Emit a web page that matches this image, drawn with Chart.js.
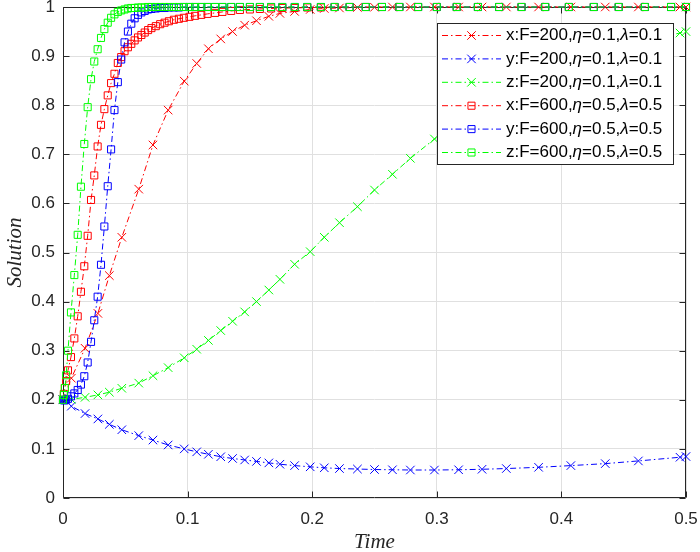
<!DOCTYPE html>
<html>
<head>
<meta charset="utf-8">
<title>Solution vs Time</title>
<script src="https://cdn.jsdelivr.net/npm/chart.js@4.4.0/dist/chart.umd.min.js"></script>
<style>
    html, body { margin: 0; padding: 0; background: #ffffff; }
    #wrap { width: 700px; height: 552px; position: relative; }
</style>
</head>
<body>
<div id="wrap"><canvas id="myChart"></canvas></div>
<script>
// time steps of the F=200 run (x, y, z share them)
const t200 = [0, 0.0067, 0.0177, 0.028, 0.0372, 0.0472, 0.0608, 0.0722, 0.0844, 0.0973,
    0.1073, 0.1167, 0.1266, 0.1361, 0.1458, 0.1553, 0.1652, 0.1741, 0.1859, 0.1984,
    0.2097, 0.2219, 0.2363, 0.25, 0.2644, 0.2788, 0.2981, 0.3175, 0.3363, 0.3558,
    0.3817, 0.4076, 0.4352, 0.4618, 0.4952, 0.5];
const x200 = [0.2, 0.244, 0.305, 0.376, 0.453, 0.531, 0.629, 0.719, 0.79, 0.849,
    0.885, 0.915, 0.935, 0.95, 0.963, 0.972, 0.981, 0.987, 0.991, 0.995,
    0.997, 0.998, 0.999, 0.9995, 1, 1, 1, 1, 1, 1,
    1, 1, 1, 1, 1, 1];
const y200 = [0.2, 0.187, 0.172, 0.161, 0.15, 0.139, 0.127, 0.118, 0.108, 0.1,
    0.094, 0.089, 0.084, 0.0805, 0.0775, 0.0745, 0.0715, 0.0688, 0.066, 0.0635,
    0.0615, 0.06, 0.059, 0.058, 0.0575, 0.057, 0.057, 0.0575, 0.0585, 0.06,
    0.0625, 0.066, 0.07, 0.0755, 0.083, 0.0845];
const z200 = [0.2, 0.201, 0.205, 0.21, 0.2155, 0.2235, 0.234, 0.249, 0.2655, 0.2855,
    0.303, 0.321, 0.341, 0.36, 0.379, 0.4, 0.4236, 0.4454, 0.476, 0.5017,
    0.531, 0.5607, 0.5933, 0.6273, 0.6593, 0.6918, 0.7312, 0.766, 0.797, 0.826,
    0.859, 0.886, 0.91, 0.929, 0.947, 0.95];

// time steps of the F=600 run
const t600 = [0, 0.0007, 0.0015, 0.0025, 0.004, 0.0064, 0.0091, 0.0118, 0.0144, 0.0171,
    0.0198, 0.0225, 0.0251, 0.0278, 0.0305, 0.0332, 0.0359, 0.0386, 0.0413, 0.044,
    0.0467, 0.0494, 0.0521, 0.0548, 0.0575, 0.0602, 0.0629, 0.0656, 0.0683, 0.071,
    0.0745, 0.078, 0.0815, 0.085, 0.089, 0.093, 0.097, 0.1015, 0.106, 0.111,
    0.116, 0.122, 0.128, 0.135, 0.142, 0.15, 0.158, 0.167, 0.176, 0.186,
    0.196, 0.207, 0.218, 0.23, 0.243, 0.256, 0.27, 0.285, 0.3, 0.316,
    0.333, 0.35, 0.368, 0.387, 0.406, 0.426, 0.446, 0.467, 0.488, 0.5];
const x600 = [0.2, 0.212, 0.224, 0.238, 0.26, 0.287, 0.325, 0.37, 0.42, 0.472,
    0.534, 0.607, 0.657, 0.716, 0.76, 0.792, 0.82, 0.845, 0.864, 0.886,
    0.898, 0.91, 0.918, 0.925, 0.932, 0.938, 0.943, 0.948, 0.953, 0.957,
    0.961, 0.965, 0.968, 0.971, 0.974, 0.976, 0.978, 0.98, 0.982, 0.984,
    0.986, 0.988, 0.99, 0.992, 0.994, 0.995, 0.996, 0.997, 0.998, 0.998,
    0.999, 0.999, 1, 1, 1, 1, 1, 1, 1, 1,
    1, 1, 1, 1, 1, 1, 1, 1, 1, 1];
const y600 = [0.2, 0.199, 0.199, 0.2, 0.202, 0.207, 0.213, 0.22, 0.231, 0.248,
    0.276, 0.318, 0.362, 0.41, 0.475, 0.553, 0.635, 0.71, 0.79, 0.847,
    0.893, 0.928, 0.95, 0.966, 0.977, 0.984, 0.989, 0.992, 0.995, 0.996,
    0.997, 0.998, 0.998, 0.999, 0.999, 0.999, 1, 1, 1, 1,
    1, 1, 1, 1, 1, 1, 1, 1, 1, 1,
    1, 1, 1, 1, 1, 1, 1, 1, 1, 1,
    1, 1, 1, 1, 1, 1, 1, 1, 1, 1];
const z600 = [0.2, 0.21, 0.224, 0.25, 0.3, 0.378, 0.454, 0.536, 0.634, 0.721,
    0.796, 0.853, 0.889, 0.914, 0.937, 0.955, 0.968, 0.978, 0.985, 0.99,
    0.993, 0.995, 0.997, 0.998, 0.998, 0.999, 0.999, 0.999, 1, 1,
    1, 1, 1, 1, 1, 1, 1, 1, 1, 1,
    1, 1, 1, 1, 1, 1, 1, 1, 1, 1,
    1, 1, 1, 1, 1, 1, 1, 1, 1, 1,
    1, 1, 1, 1, 1, 1, 1, 1, 1, 1];

// axis ticks and legend texts
const xTicks = [0, 0.1, 0.2, 0.3, 0.4, 0.5];
const yTicks = [0, 0.1, 0.2, 0.3, 0.4, 0.5, 0.6, 0.7, 0.8, 0.9, 1];
const seriesLabels = [
    'x:F=200,η=0.1,λ=0.1',
    'y:F=200,η=0.1,λ=0.1',
    'z:F=200,η=0.1,λ=0.1',
    'x:F=600,η=0.5,λ=0.5',
    'y:F=600,η=0.5,λ=0.5',
    'z:F=600,η=0.5,λ=0.5'
];

const RED = '#ff0000';
const BLUE = '#0000ff';
const GREEN = '#00ff00';
const AXIS = '#262626';
const DASHDOT = [6, 3, 1.5, 3];
const SANS = '"Liberation Sans", Arial, Helvetica, sans-serif';
const SERIF = '"Liberation Serif", "Times New Roman", serif';

// (t, value) 쌍으로 묶기
function toPoints(t, v) {
    return t.map((x, i) => ({ x: x, y: v[i] }));
}

function makeSet(label, t, v, color, marker, order) {
    return {
        label: label,
        data: toPoints(t, v),
        borderColor: color,
        backgroundColor: color,
        borderWidth: 1,
        borderDash: DASHDOT,
        showLine: true,
        fill: false,
        tension: 0,
        pointStyle: marker,
        pointRadius: marker === 'rect' ? 5 : 6,
        pointHoverRadius: marker === 'rect' ? 5 : 6,
        pointBorderWidth: 1,
        pointBorderColor: color,
        pointBackgroundColor: 'rgba(0,0,0,0)',
        clip: false,
        order: order
    };
}

function fmt(v) {
    return String(Math.round(v * 10) / 10);
}

// axes box with inward ticks on all four sides (under the data)
const boxPlugin = {
    id: 'boxPlugin',
    beforeDatasetsDraw(chart) {
        const ctx = chart.ctx;
        const a = chart.chartArea;
        const xs = chart.scales.x;
        const ys = chart.scales.y;
        const L = Math.round(a.left) + 0.5, R = Math.round(a.right) - 0.5;
        const T = Math.round(a.top) + 0.5, B = Math.round(a.bottom) - 0.5;
        ctx.save();
        ctx.strokeStyle = AXIS;
        ctx.lineWidth = 1;
        ctx.beginPath();
        ctx.rect(L, T, R - L, B - T);
        xTicks.forEach(v => {
            const px = Math.round(xs.getPixelForValue(v)) + 0.5;
            ctx.moveTo(px, B); ctx.lineTo(px, B - 6);
            ctx.moveTo(px, T); ctx.lineTo(px, T + 6);
        });
        yTicks.forEach(v => {
            const py = Math.round(ys.getPixelForValue(v)) + 0.5;
            ctx.moveTo(L, py); ctx.lineTo(L + 6, py);
            ctx.moveTo(R, py); ctx.lineTo(R - 6, py);
        });
        ctx.stroke();
        ctx.restore();
    }
};

// boxed legend in the upper right corner of the plot
const legendPlugin = {
    id: 'legendPlugin',
    afterDraw(chart) {
        const ctx = chart.ctx;
        const a = chart.chartArea;
        const boxR = a.right - 13;
        const boxT = a.top + 16;
        const boxW = 236;
        const rowH = 23.4;
        const boxH = 141;
        const boxL = boxR - boxW;
        ctx.save();
        ctx.fillStyle = '#ffffff';
        ctx.fillRect(boxL, boxT, boxW, boxH);
        ctx.strokeStyle = AXIS;
        ctx.lineWidth = 1;
        ctx.strokeRect(Math.round(boxL) + 0.5, Math.round(boxT) + 0.5, Math.round(boxW), Math.round(boxH));

        chart.data.datasets.forEach((ds, i) => {
            const y = boxT + 12.5 + i * rowH;
            ctx.strokeStyle = ds.borderColor;
            ctx.lineWidth = 1;
            ctx.setLineDash(DASHDOT);
            ctx.beginPath();
            ctx.moveTo(boxL + 5, y);
            ctx.lineTo(boxL + 64, y);
            ctx.stroke();
            ctx.setLineDash([]);
            ctx.fillStyle = 'rgba(0,0,0,0)';
            Chart.helpers.drawPoint(ctx, {
                pointStyle: ds.pointStyle,
                radius: ds.pointRadius,
                rotation: 0,
                borderWidth: 1
            }, boxL + 34.5, y);

            // 그리스 문자는 이탤릭으로
            let x = boxL + 69;
            ctx.fillStyle = '#000000';
            ctx.textBaseline = 'middle';
            ctx.textAlign = 'left';
            seriesLabels[i].split(/([ηλ])/).forEach(part => {
                if (!part) return;
                const greek = part === 'η' || part === 'λ';
                ctx.font = (greek ? 'italic ' : '') + '17px ' + SANS;
                ctx.fillText(part, x, y);
                x += ctx.measureText(part).width;
            });
        });
        ctx.restore();
    }
};

const ctx = document.getElementById('myChart').getContext('2d');
const myChart = new Chart(ctx, {
    type: 'scatter',
    data: {
        datasets: [
            makeSet(seriesLabels[0], t200, x200, RED, 'crossRot', 5),
            makeSet(seriesLabels[1], t200, y200, BLUE, 'crossRot', 4),
            makeSet(seriesLabels[2], t200, z200, GREEN, 'crossRot', 3),
            makeSet(seriesLabels[3], t600, x600, RED, 'rect', 2),
            makeSet(seriesLabels[4], t600, y600, BLUE, 'rect', 1),
            makeSet(seriesLabels[5], t600, z600, GREEN, 'rect', 0)
        ]
    },
    options: {
        responsive: true,
        maintainAspectRatio: false,
        animation: false,
        layout: { padding: { left: 0, right: 14, top: 7, bottom: 0 } },
        plugins: {
            legend: { display: false },
            tooltip: { enabled: false },
            title: { display: false }
        },
        scales: {
            x: {
                type: 'linear',
                min: 0,
                max: 0.5,
                afterBuildTicks: s => { s.ticks = xTicks.map(v => ({ value: v })); },
                afterFit: s => { s.height = 54; s.paddingLeft = 0; s.paddingRight = 0; },
                ticks: {
                    color: AXIS,
                    padding: 11,
                    maxRotation: 0,
                    font: { family: SANS, size: 17 },
                    callback: v => fmt(v)
                },
                grid: { color: '#e0e0e0', lineWidth: 1, drawTicks: false },
                border: { display: false },
                title: {
                    display: true,
                    text: 'Time',
                    color: AXIS,
                    font: { family: SERIF, style: 'italic', size: 21, lineHeight: 0.8 },
                    padding: { top: 0, bottom: 1 }
                }
            },
            y: {
                type: 'linear',
                min: 0,
                max: 1,
                afterBuildTicks: s => { s.ticks = yTicks.map(v => ({ value: v })); },
                afterFit: s => { s.width = 63; s.paddingTop = 0; s.paddingBottom = 0; },
                ticks: {
                    color: AXIS,
                    padding: 8,
                    font: { family: SANS, size: 17 },
                    callback: v => fmt(v)
                },
                grid: { color: '#e0e0e0', lineWidth: 1, drawTicks: false },
                border: { display: false },
                title: {
                    display: true,
                    text: 'Solution',
                    color: AXIS,
                    font: { family: SERIF, style: 'italic', size: 21, lineHeight: 1 },
                    padding: { top: 5, bottom: 0 }
                }
            }
        }
    },
    plugins: [boxPlugin, legendPlugin]
});
</script>
</body>
</html>
